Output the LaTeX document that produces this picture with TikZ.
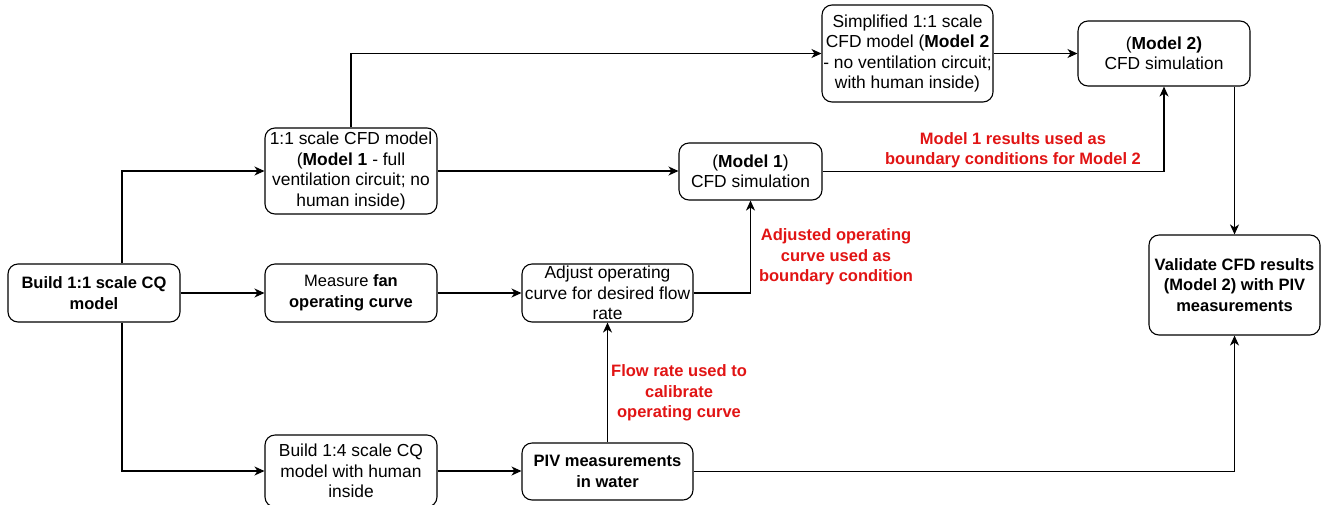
\documentclass[tikz,border=0pt]{standalone}
\usepackage{fontspec}
\setmainfont{Liberation Sans}
\usetikzlibrary{arrows.meta}
\definecolor{lblred}{RGB}{225,20,20}
\begin{document}
\begin{tikzpicture}[x=1pt,y=-1pt,
  font=\fontsize{17.4}{20.5}\selectfont,
  box/.style={draw=black, line width=1.1pt, rounded corners=10pt, inner sep=0pt, align=center, fill=white},
  boldbox/.style={box, font=\fontsize{16.5}{20.5}\selectfont\bfseries},
  arr/.style={draw=black, line width=1.1pt, -{Stealth[length=10pt,width=9pt,inset=3pt]}},
  redlbl/.style={text=lblred, font=\fontsize{16.5}{20.5}\selectfont\bfseries, align=center, inner sep=0pt}]
\useasboundingbox (0,0) rectangle (1321,504);

\node[boldbox, minimum width=172pt, minimum height=58pt] (b11) at (94,293) {Build 1:1 scale CQ\\model};
\node[box, minimum width=172pt, minimum height=86pt] (cfd1m) at (351,171) {1:1 scale CFD model\\(\textbf{Model 1} - full\\ventilation circuit; no\\human inside)};
\node[box, minimum width=172pt, minimum height=58pt] (fan) at (351,293) {\fontsize{16.5}{20.5}\selectfont Measure \textbf{fan}\\\fontsize{16.5}{20.5}\selectfont\textbf{operating curve}};
\node[box, minimum width=172pt, minimum height=72pt] (b14) at (351,471) {Build 1:4 scale CQ\\model with human\\inside};
\node[box, minimum width=171pt, minimum height=58pt] (adj) at (607.5,293) {Adjust operating\\curve for desired flow\\rate};
\node[box, minimum width=143pt, minimum height=57pt] (sim1) at (750.5,171.5) {(\textbf{Model 1})\\CFD simulation};
\node[boldbox, minimum width=171pt, minimum height=57pt] (piv) at (607.5,471.5) {PIV measurements\\in water};
\node[box, minimum width=171pt, minimum height=97pt] (simp) at (907.5,53.5) {Simplified 1:1 scale\\CFD model (\textbf{Model 2}\\- no ventilation circuit;\\with human inside)};
\node[box, minimum width=172pt, minimum height=65pt] (sim2) at (1164,53.5) {(\textbf{Model 2)}\\CFD simulation};
\node[boldbox, minimum width=171pt, minimum height=100pt] (val) at (1234.5,285) {Validate CFD results\\(Model 2) with PIV\\measurements};

\node[redlbl] (lab1) at (836,257) {Adjusted operating\\curve used as\\boundary condition};
\node[redlbl] (lab2) at (679,393) {Flow rate used to\\calibrate\\operating curve};
\node[redlbl] (lab3) at (1013,150) {Model 1 results used as\\boundary conditions for Model 2};

\draw[arr] ([xshift=28pt]b11.north) |- (cfd1m.west);
\draw[arr] ([xshift=28pt]b11.south) |- (b14.west);
\draw[arr] (b11.east) -- (fan.west);
\draw[arr] (cfd1m.north) |- (simp.west);
\draw[arr] (cfd1m.east) -- (cfd1m.east -| sim1.west);
\draw[arr] (fan.east) -- (adj.west);
\draw[arr] (adj.east) -| (sim1.south);
\draw[arr] (piv.north) -- (adj.south);
\draw[arr] (b14.east) -- (b14.east -| piv.west);
\draw[arr] (piv.east) -| (val.south);
\draw[arr] (sim1.east) -| (sim2.south);
\draw[arr] (simp.east) -- (sim2.west);
\draw[arr] (sim2.south -| val.north) -- (val.north);
\end{tikzpicture}
\end{document}
